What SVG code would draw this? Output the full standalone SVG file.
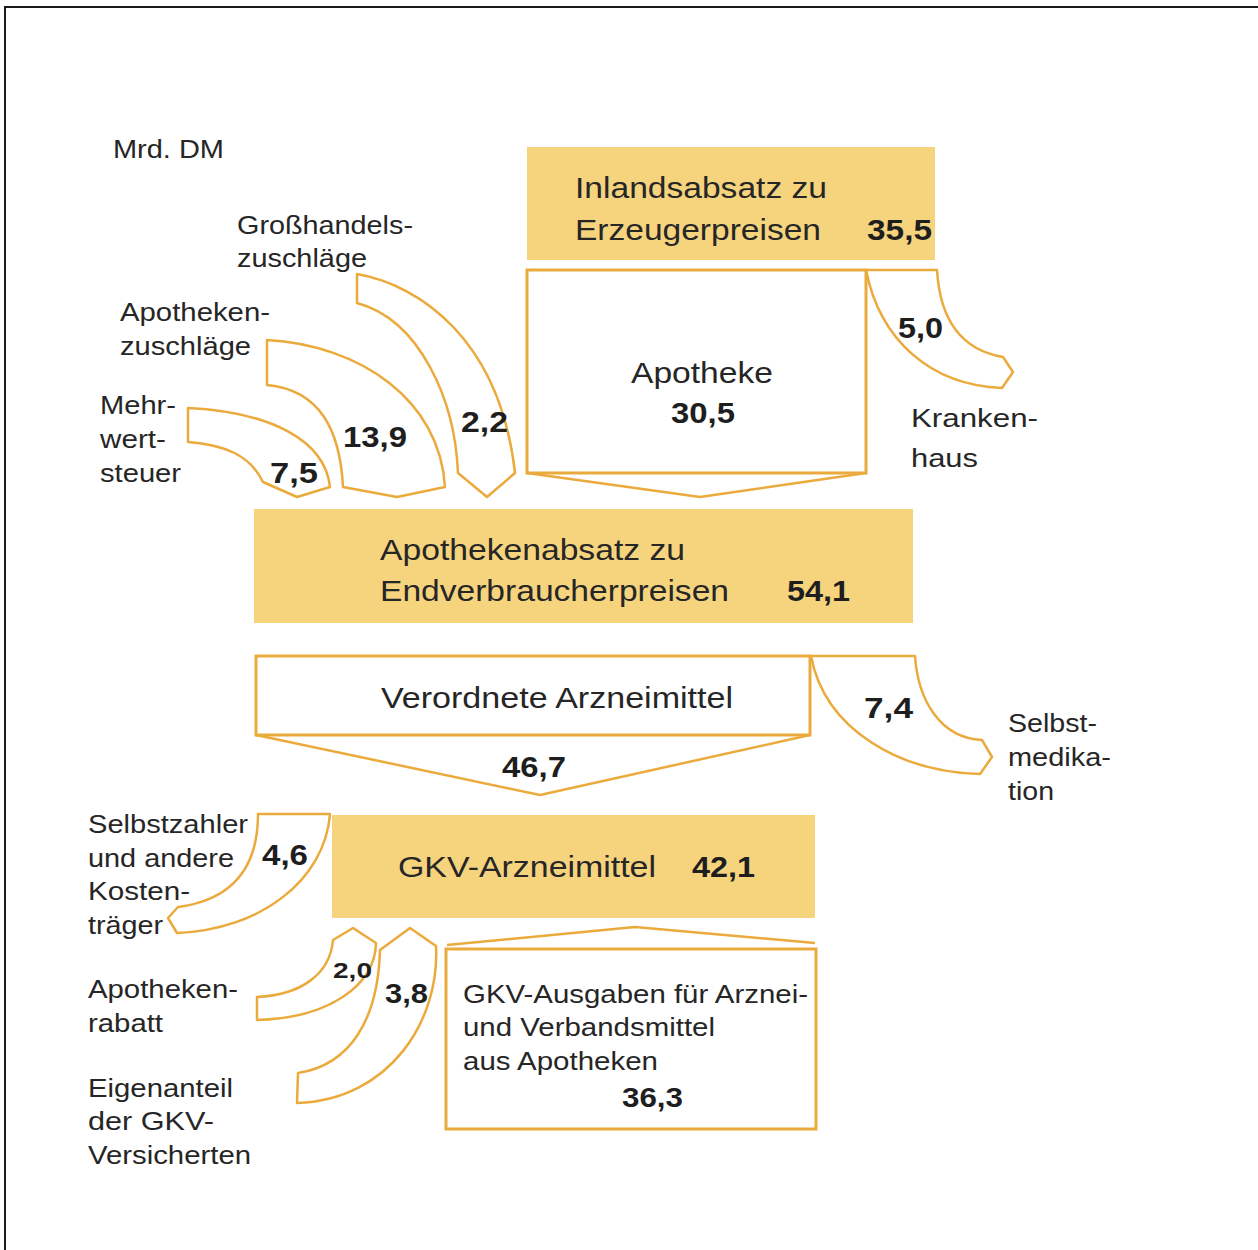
<svg xmlns="http://www.w3.org/2000/svg" width="1258" height="1250" viewBox="0 0 1258 1250">
<style>
.t{font-family:"Liberation Sans",Arial,sans-serif;fill:#262626;font-size:25px}
.m{font-family:"Liberation Sans",Arial,sans-serif;fill:#262626;font-size:30px}
.b{font-family:"Liberation Sans",Arial,sans-serif;fill:#1e1e1e;font-size:30px;font-weight:bold}
.s{font-family:"Liberation Sans",Arial,sans-serif;fill:#262626;font-size:26px}
.fill{fill:#F6D47E;stroke:none}
.box{fill:#fff;stroke:#EBAA3C;stroke-width:3}
.flow{fill:#fff;stroke:#EBAA3C;stroke-width:2.5;stroke-linejoin:round}
.chev{fill:none;stroke:#EBAA3C;stroke-width:2.5;stroke-linejoin:round}
</style>
<rect width="1258" height="1250" fill="#fff"/>
<path d="M5,1250 V7 H1258" fill="none" stroke="#1a1a1a" stroke-width="2"/>
<text class="t" x="113" y="158" textLength="111" lengthAdjust="spacingAndGlyphs">Mrd. DM</text>

<g id="connectors">
  <path class="chev" d="M527,473 L700,497 L866,473"/>
  <path class="chev" d="M256,735 L540,795 L810,735"/>
  <path class="chev" d="M447,945 L635,927 L815,943"/>
  <path id="flow-grosshandel" class="flow" d="M357,274 C420,285 500,340 515,473 L487,497 L458,473 C455,400 420,320 357,303 Z"/>
  <path id="flow-apothekenzuschlag" class="flow" d="M267,340 C360,345 440,400 445,487 L397,497 L343,487 C340,430 320,390 267,385 Z"/>
  <path id="flow-mwst" class="flow" d="M188,408 C270,412 325,440 330,487 L297,497 L263,482 C250,455 225,445 188,442 Z"/>
  <path id="flow-krankenhaus" class="flow" d="M866,270 L937,270 C940,320 962,350 1003,357 L1013,372 L1002,388 C930,385 880,340 866,270 Z"/>
  <path id="flow-selbstmedikation" class="flow" d="M811,656 L915,656 C918,700 940,738 982,740 L992,757 L980,774 C900,772 825,730 811,656 Z"/>
  <path id="flow-selbstzahler" class="flow" d="M258,814 L330,814 C325,880 260,930 177,933 L168,918 L178,907 C230,900 258,870 258,814 Z"/>
  <path id="flow-rabatt" class="flow" d="M333,940 L353,928 L376,943 C375,985 330,1018 257,1020 L257,997 C300,995 330,975 333,940 Z"/>
  <path id="flow-eigenanteil" class="flow" d="M380,950 L410,928 L436,946 C440,1020 390,1100 297,1103 L298,1073 C350,1065 378,1020 380,950 Z"/>
</g>

<g id="node-inlandsabsatz">
  <rect class="fill" x="527" y="147" width="408" height="113"/>
  <text class="m" x="575" y="198" textLength="252" lengthAdjust="spacingAndGlyphs">Inlandsabsatz zu</text>
  <text class="m" x="575" y="240" textLength="246" lengthAdjust="spacingAndGlyphs">Erzeugerpreisen</text>
  <text class="b" x="867" y="240" textLength="65" lengthAdjust="spacingAndGlyphs">35,5</text>
</g>

<g id="node-apotheke">
  <rect class="box" x="527" y="270" width="339" height="203"/>
  <text class="m" x="631" y="383" textLength="142" lengthAdjust="spacingAndGlyphs">Apotheke</text>
  <text class="b" x="671" y="423" textLength="64" lengthAdjust="spacingAndGlyphs">30,5</text>
</g>

<g id="labels-top">
  <text class="b" x="898" y="338" textLength="45" lengthAdjust="spacingAndGlyphs">5,0</text>
  <text class="t" x="911" y="427" textLength="127" lengthAdjust="spacingAndGlyphs">Kranken-</text>
  <text class="t" x="911" y="467" textLength="67" lengthAdjust="spacingAndGlyphs">haus</text>
  <text class="t" x="237" y="234" textLength="176" lengthAdjust="spacingAndGlyphs">Großhandels-</text>
  <text class="t" x="237" y="267" textLength="130" lengthAdjust="spacingAndGlyphs">zuschläge</text>
  <text class="t" x="120" y="321" textLength="150" lengthAdjust="spacingAndGlyphs">Apotheken-</text>
  <text class="t" x="120" y="355" textLength="131" lengthAdjust="spacingAndGlyphs">zuschläge</text>
  <text class="t" x="100" y="414" textLength="76" lengthAdjust="spacingAndGlyphs">Mehr-</text>
  <text class="t" x="100" y="448" textLength="66" lengthAdjust="spacingAndGlyphs">wert-</text>
  <text class="t" x="100" y="482" textLength="81" lengthAdjust="spacingAndGlyphs">steuer</text>
  <text class="b" x="270" y="483" textLength="48" lengthAdjust="spacingAndGlyphs">7,5</text>
  <text class="b" x="343" y="447" textLength="64" lengthAdjust="spacingAndGlyphs">13,9</text>
  <text class="b" x="461" y="432" textLength="47" lengthAdjust="spacingAndGlyphs">2,2</text>
</g>

<g id="node-apothekenabsatz">
  <rect class="fill" x="254" y="509" width="659" height="114"/>
  <text class="m" x="380" y="560" textLength="305" lengthAdjust="spacingAndGlyphs">Apothekenabsatz zu</text>
  <text class="m" x="380" y="601" textLength="349" lengthAdjust="spacingAndGlyphs">Endverbraucherpreisen</text>
  <text class="b" x="787" y="601" textLength="63" lengthAdjust="spacingAndGlyphs">54,1</text>
</g>

<g id="node-verordnete">
  <rect class="box" x="256" y="656" width="554" height="79"/>
  <text class="m" x="381" y="708" textLength="352" lengthAdjust="spacingAndGlyphs">Verordnete Arzneimittel</text>
  <text class="b" x="502" y="777" textLength="64" lengthAdjust="spacingAndGlyphs">46,7</text>
</g>

<g id="labels-mid">
  <text class="b" x="864" y="718" textLength="49" lengthAdjust="spacingAndGlyphs">7,4</text>
  <text class="t" x="1008" y="732" textLength="89" lengthAdjust="spacingAndGlyphs">Selbst-</text>
  <text class="t" x="1008" y="766" textLength="103" lengthAdjust="spacingAndGlyphs">medika-</text>
  <text class="t" x="1008" y="800" textLength="46" lengthAdjust="spacingAndGlyphs">tion</text>
</g>

<g id="node-gkv-arzneimittel">
  <rect class="fill" x="332" y="815" width="483" height="103"/>
  <text class="m" x="398" y="877" textLength="258" lengthAdjust="spacingAndGlyphs">GKV-Arzneimittel</text>
  <text class="b" x="692" y="877" textLength="63" lengthAdjust="spacingAndGlyphs">42,1</text>
</g>

<g id="labels-bottom">
  <text class="t" x="88" y="833" textLength="160" lengthAdjust="spacingAndGlyphs">Selbstzahler</text>
  <text class="t" x="88" y="867" textLength="146" lengthAdjust="spacingAndGlyphs">und andere</text>
  <text class="t" x="88" y="900" textLength="102" lengthAdjust="spacingAndGlyphs">Kosten-</text>
  <text class="t" x="88" y="934" textLength="75" lengthAdjust="spacingAndGlyphs">träger</text>
  <text class="b" x="262" y="865" textLength="46" lengthAdjust="spacingAndGlyphs">4,6</text>
  <text class="b" x="333" y="978" style="font-size:22px" textLength="39" lengthAdjust="spacingAndGlyphs">2,0</text>
  <text class="b" x="385" y="1003" style="font-size:27px" textLength="43" lengthAdjust="spacingAndGlyphs">3,8</text>
  <text class="t" x="88" y="998" textLength="150" lengthAdjust="spacingAndGlyphs">Apotheken-</text>
  <text class="t" x="88" y="1032" textLength="75" lengthAdjust="spacingAndGlyphs">rabatt</text>
  <text class="t" x="88" y="1097" textLength="145" lengthAdjust="spacingAndGlyphs">Eigenanteil</text>
  <text class="t" x="88" y="1130" textLength="126" lengthAdjust="spacingAndGlyphs">der GKV-</text>
  <text class="t" x="88" y="1164" textLength="163" lengthAdjust="spacingAndGlyphs">Versicherten</text>
</g>

<g id="node-gkv-ausgaben">
  <rect class="box" x="446" y="949" width="370" height="180"/>
  <text class="s" x="463" y="1003" textLength="345" lengthAdjust="spacingAndGlyphs">GKV-Ausgaben für Arznei-</text>
  <text class="s" x="463" y="1036" textLength="252" lengthAdjust="spacingAndGlyphs">und Verbandsmittel</text>
  <text class="s" x="463" y="1070" textLength="195" lengthAdjust="spacingAndGlyphs">aus Apotheken</text>
  <text class="b" x="622" y="1107" style="font-size:27px" textLength="61" lengthAdjust="spacingAndGlyphs">36,3</text>
</g>
</svg>
